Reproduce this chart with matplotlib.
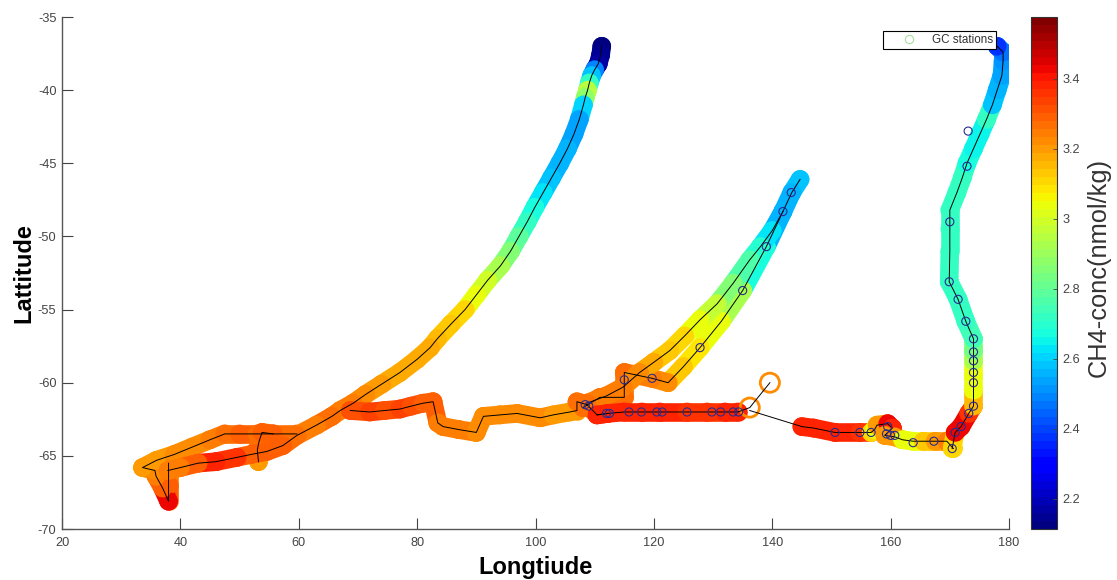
import numpy as np
import matplotlib
matplotlib.use("Agg")
import matplotlib.pyplot as plt
from matplotlib.collections import LineCollection
from matplotlib.lines import Line2D

plt.rcParams['font.family'] = ['Liberation Sans', 'DejaVu Sans']
plt.rcParams['axes.unicode_minus'] = False

# Track 1: long arc from the north-west end down to the far south-west
t1_lon = [111.2,111.0,110.6,110.0,109.5,109.1,108.8,108.4,108.1,107.4,106.5,105.4,104.1,102.7,101.3,99.9,98.6,97.2,95.8,94.1,91.9,90.0,88.1,85.7,83.4,82.2,80.0,77.1,74,71.3,69.2,67,65.6,63,59.7,57.3,54.6,52,49.6,46,43,40,37.9]
t1_lat = [-37.0,-37.6,-38.2,-38.6,-39.0,-39.5,-40,-40.5,-41,-42,-43,-44,-45,-46,-47,-48,-49,-50,-51,-52,-53,-54,-55,-56,-57,-57.6,-58.4,-59.3,-60.1,-60.8,-61.4,-61.9,-62.3,-62.9,-63.6,-64.3,-64.7,-64.9,-65.1,-65.4,-65.5,-65.8,-66.0]
t1_val = [2.13,2.14,2.16,2.5,2.58,2.72,2.95,2.88,2.6,2.54,2.54,2.55,2.55,2.58,2.63,2.68,2.72,2.78,2.85,2.92,3.0,3.04,3.1,3.13,3.15,3.17,3.18,3.18,3.2,3.22,3.24,3.24,3.26,3.25,3.27,3.28,3.3,3.3,3.35,3.38,3.28,3.25,3.24]

# Track 2: the return leg in the far south-west
t2_lon = [38.0,38.0,38.0,37.0,35.9,35.7,33.6,36,39,42,45,47.5,50,53,55.7,59.7]
t2_lat = [-65.5,-67,-68.1,-67.2,-66.4,-66.0,-65.8,-65.3,-64.9,-64.4,-63.9,-63.5,-63.5,-63.5,-63.5,-63.5]
t2_val = [3.24,3.3,3.42,3.28,3.25,3.22,3.2,3.2,3.22,3.22,3.24,3.26,3.28,3.27,3.27,3.27]

# Track 3: short loop near 53E
t3_lon = [53.2,53.0,53.3,53.8,55.7]
t3_lat = [-65.4,-64.6,-64.0,-63.4,-63.5]
t3_val = [3.2,3.24,3.27,3.28,3.28]

# Track 4: zonal leg between 69E and 112E
t4_lon = [68.7,72,74.5,77.1,79,81,82.7,83.5,84.4,87,90,91.2,94,96.9,100.8,103,105.8,107,107,108.7,110.4,112.2]
t4_lat = [-61.9,-62,-61.9,-61.8,-61.6,-61.4,-61.3,-62.75,-63,-63.2,-63.4,-62.3,-62.2,-62.1,-62.4,-62.2,-62,-61.9,-61.3,-61.5,-62.2,-62.1]
t4_val = [3.32,3.33,3.32,3.33,3.32,3.3,3.28,3.24,3.24,3.24,3.23,3.22,3.22,3.22,3.22,3.2,3.2,3.2,3.27,3.3,3.38,3.38]

# Track 5: red leg along 62S
t5_lon = [110.4,112.2,115,118,121,125.6,129,132,134.2]
t5_lat = [-62.2,-62.1,-62,-62,-62,-62,-62,-62,-62]
t5_val = [3.38,3.38,3.38,3.38,3.38,3.37,3.37,3.38,3.38]

# Track 6: middle arc, upper strand
t6_lon = [144.7,143.3,141.8,140,138,136.2,133.4,130.7,127.8,125.2,122.7,120,117.6,114.8,112,108.7]
t6_lat = [-46.1,-47,-48.3,-49.6,-50.7,-51.6,-53.2,-54.6,-55.7,-56.8,-57.8,-58.6,-59.3,-60.3,-60.9,-61.4]
t6_val = [2.58,2.55,2.55,2.63,2.7,2.76,2.86,2.98,3.04,3.1,3.13,3.18,3.22,3.25,3.25,3.26]

# Track 7: middle arc, lower strand
t7_lon = [141.8,139,135,131.4,127.8,125,122.4,119.7,115,115,115,110.9,108]
t7_lat = [-48.3,-50.7,-53.7,-55.8,-57.6,-58.9,-60,-59.7,-59.3,-60.3,-61,-61,-61.7]
t7_val = [2.55,2.68,2.92,3.03,3.08,3.14,3.22,3.25,3.26,3.26,3.26,3.26,3.26]

# Track 8: eastern leg along 63-64S
t8_lon = [145,147,150.6,154.8,156.7,157.3,157.7,159.5,160.3,159,160.7,162,163.8,165.5,167.5,169.5,170.6]
t8_lat = [-63,-63.1,-63.4,-63.4,-63.4,-63.2,-62.9,-62.8,-63.1,-63.6,-63.7,-63.9,-64,-64,-64,-64,-64.5]
t8_val = [3.38,3.38,3.38,3.36,3.1,3.05,3.2,3.42,3.38,3.2,3.2,3.05,3.05,3.12,3.2,3.25,3.08]

# Track 9: the northward leg near 170-179E
t9_lon = [170.4,170.9,171.9,173.2,174,174,174,174,174,174,172.7,171.4,169.9,170,170,170,171.2,172.1,172.9,174,175.1,176.2,177.2,178,178.8,179,179,178]
t9_lat = [-64.5,-63.4,-63,-62.1,-61.6,-60.5,-59.5,-58.5,-57.8,-57,-55.8,-54.3,-53.1,-51,-49.5,-48.2,-47,-46,-45,-44,-43,-42,-41,-40,-39,-38,-37.4,-37]
t9_val = [3.1,3.42,3.42,3.35,3.15,3.05,3.03,2.92,2.83,2.75,2.72,2.72,2.72,2.72,2.72,2.72,2.72,2.72,2.68,2.64,2.66,2.72,2.58,2.56,2.54,2.52,2.46,2.38]

# Final short leg with two isolated samples
t10_lon = [136.2,139.6]
t10_lat = [-61.7,-60.0]
t10_val = [3.22,3.22]

# GC stations
st_lon = [173.1,172.9,170,169.9,171.4,172.7,174,174,174,174,174,174,173.2,171.9,170.9,170.4,167.3,163.8,160.7,160,159.3,159.5,156.7,154.8,150.6,
          134.3,133.4,131.3,129.8,125.6,121.4,120.5,117.9,115.8,112.5,112,108.4,109,115,119.7,127.8,135,139,141.8,143.2]
st_lat = [-42.8,-45.2,-49,-53.1,-54.3,-55.8,-57,-57.9,-58.5,-59.3,-60,-61.6,-62.1,-63,-63.4,-64.5,-64,-64.1,-63.6,-63.6,-63.5,-63,-63.4,-63.4,-63.4,
          -62,-62,-62,-62,-62,-62,-62,-62,-62,-62.1,-62.1,-61.5,-61.6,-59.8,-59.7,-57.6,-53.7,-50.7,-48.3,-47]

vmin, vmax = 2.114, 3.577
xticks = [20,40,60,80,100,120,140,160,180]
yticks = [-70,-65,-60,-55,-50,-45,-40,-35]
cticks = [2.2,2.4,2.6,2.8,3.0,3.2,3.4]
cticklabels = ['2.2','2.4','2.6','2.8','3','3.2','3.4']

W, H = 1117, 580
fig = plt.figure(figsize=(W/100, H/100), dpi=100)
ax = fig.add_axes([62/W, 1-529/H, (1009-62)/W, (529-17)/H])
cax = fig.add_axes([1031/W, 1-529/H, 26/W, (529-17)/H])

cmap = plt.get_cmap('jet', 64)
norm = plt.Normalize(vmin, vmax)
LW = 13.4

tracks = [(t2_lon,t2_lat,t2_val),(t3_lon,t3_lat,t3_val),(t1_lon,t1_lat,t1_val),(t4_lon,t4_lat,t4_val),
          (t7_lon,t7_lat,t7_val),(t6_lon,t6_lat,t6_val),(t5_lon,t5_lat,t5_val),(t8_lon,t8_lat,t8_val),(t9_lon,t9_lat,t9_val)]
for lon, lat, val in tracks:
    pts = np.column_stack([lon, lat])
    segs = np.stack([pts[:-1], pts[1:]], axis=1)
    lc = LineCollection(segs, colors=cmap(norm(val[:-1])), linewidths=LW, capstyle='round', joinstyle='round', zorder=2)
    ax.add_collection(lc)
    ax.scatter(lon, lat, c=val, cmap=cmap, norm=norm, s=LW**2, linewidths=0, zorder=2)

# isolated samples: hollow rings
ax.scatter(t10_lon, t10_lat, s=190, facecolors='none', edgecolors=cmap(norm(t10_val)), linewidths=2, zorder=3)

# ship track as thin black lines
for lon, lat, val in tracks:
    ax.plot(lon, lat, color='black', lw=0.7, zorder=4)
ax.plot([134.2,136.2,139.6], [-62,-61.7,-60], color='black', lw=0.7, zorder=4)
ax.plot([136.2,145], [-61.9,-63], color='black', lw=0.7, zorder=4)

ax.scatter(st_lon, st_lat, s=34, facecolors='none', edgecolors='#2b2b8f', linewidths=0.8, zorder=5)

ax.set_xlim(20, 180)
ax.set_ylim(-70, -35)
ax.set_xticks(xticks)
ax.set_yticks(yticks)
ax.tick_params(direction='in', length=8, width=0.8, color='#444444', labelcolor='#444444', labelsize=9.2)
ax.tick_params(axis='x', pad=6)
ax.tick_params(axis='y', pad=4)
for s in ['top', 'right']:
    ax.spines[s].set_visible(False)
for s in ['left', 'bottom']:
    ax.spines[s].set_color('#555555')
    ax.spines[s].set_linewidth(1.0)
ax.set_xlabel('Longtiude', fontsize=17, fontweight='bold', labelpad=5)
ax.set_ylabel('Lattitude', fontsize=17, fontweight='bold', labelpad=2)

handle = Line2D([], [], marker='o', ls='none', mfc='none', mec='#a8e0a0', ms=6, mew=0.8)
leg = ax.legend([handle], ['GC stations'], loc='upper left',
                bbox_to_anchor=((883-62)/(1009-62), 1-(31-17)/(529-17)), bbox_transform=ax.transAxes,
                fontsize=8.4, fancybox=False, framealpha=1, edgecolor='black', borderaxespad=0,
                borderpad=0.25, handletextpad=0.0, handlelength=3.94, labelcolor='#333333')
leg.get_frame().set_linewidth(0.8)
leg.set_zorder(10)

sm = plt.cm.ScalarMappable(norm=norm, cmap=cmap)
cb = fig.colorbar(sm, cax=cax)
cb.set_ticks(cticks)
cb.set_ticklabels(cticklabels)
cax.tick_params(direction='in', length=3, width=0.6, color='#444444', labelcolor='#444444', labelsize=9.2, pad=4, right=True)
cb.outline.set_edgecolor('#333333')
cb.outline.set_linewidth(0.8)
cb.set_label('CH4-conc(nmol/kg)', fontsize=18.3, color='#333333', labelpad=5, y=0.51)

fig.savefig('out.png', dpi=100)
